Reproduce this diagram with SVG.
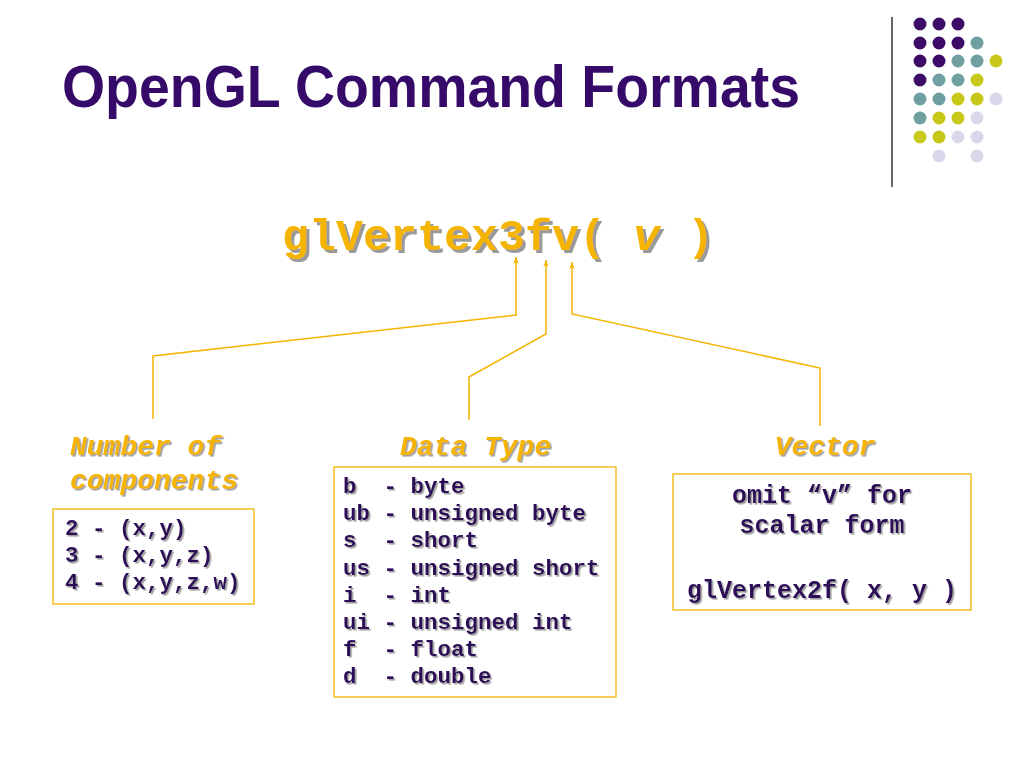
<svg xmlns="http://www.w3.org/2000/svg" width="1024" height="768" viewBox="0 0 1024 768">
<defs>
<style>
.title{font-family:"Liberation Sans",Arial,sans-serif;font-weight:bold;font-size:60px;fill:#350a68}
.code{font-family:"Liberation Mono","Courier New",monospace;font-weight:bold}
.main{font-size:45px;fill:#f5b400}
.lbl{font-size:28px;fill:#f5b400;font-style:italic}
.item{font-size:22.5px;fill:#2e0a58}
.vec{font-size:25px;fill:#2e0a58}
.box{fill:#ffffff;stroke:#f5b400;stroke-width:1.3}
.conn{fill:none;stroke:#f5b400;stroke-width:1.5}
.p{fill:#3d0c66}.t{fill:#6f9fa0}.y{fill:#c8c81a}.l{fill:#d8d8ea}
</style>
<filter id="shBig" x="-5%" y="-20%" width="110%" height="140%"><feDropShadow dx="3" dy="3" stdDeviation="0.6" flood-color="#9a9a9a" flood-opacity="1"/></filter>
<filter id="sh" x="-5%" y="-20%" width="110%" height="140%"><feDropShadow dx="1.6" dy="1.6" stdDeviation="0.5" flood-color="#a0a0a0" flood-opacity="1"/></filter>
<marker id="arr" viewBox="0 0 10 10" refX="10" refY="5" markerWidth="7" markerHeight="7" orient="auto" markerUnits="userSpaceOnUse">
<path d="M0,1 L10,5 L0,9 L3,5 Z" fill="#f5b400"/>
</marker>
</defs>
<rect width="1024" height="768" fill="#ffffff"/>

<g id="title">
<text class="title" x="62" y="107" textLength="738" lengthAdjust="spacingAndGlyphs">OpenGL Command Formats</text>
</g>

<g id="decoration">
<line x1="892" y1="17" x2="892" y2="187" stroke="#333333" stroke-width="1.5"/>
<circle class="p" cx="920" cy="24" r="6.5"/><circle class="p" cx="939" cy="24" r="6.5"/><circle class="p" cx="958" cy="24" r="6.5"/>
<circle class="p" cx="920" cy="43" r="6.5"/><circle class="p" cx="939" cy="43" r="6.5"/><circle class="p" cx="958" cy="43" r="6.5"/><circle class="t" cx="977" cy="43" r="6.5"/>
<circle class="p" cx="920" cy="61" r="6.5"/><circle class="p" cx="939" cy="61" r="6.5"/><circle class="t" cx="958" cy="61" r="6.5"/><circle class="t" cx="977" cy="61" r="6.5"/><circle class="y" cx="996" cy="61" r="6.5"/>
<circle class="p" cx="920" cy="80" r="6.5"/><circle class="t" cx="939" cy="80" r="6.5"/><circle class="t" cx="958" cy="80" r="6.5"/><circle class="y" cx="977" cy="80" r="6.5"/>
<circle class="t" cx="920" cy="99" r="6.5"/><circle class="t" cx="939" cy="99" r="6.5"/><circle class="y" cx="958" cy="99" r="6.5"/><circle class="y" cx="977" cy="99" r="6.5"/><circle class="l" cx="996" cy="99" r="6.5"/>
<circle class="t" cx="920" cy="118" r="6.5"/><circle class="y" cx="939" cy="118" r="6.5"/><circle class="y" cx="958" cy="118" r="6.5"/><circle class="l" cx="977" cy="118" r="6.5"/>
<circle class="y" cx="920" cy="137" r="6.5"/><circle class="y" cx="939" cy="137" r="6.5"/><circle class="l" cx="958" cy="137" r="6.5"/><circle class="l" cx="977" cy="137" r="6.5"/>
<circle class="l" cx="939" cy="156" r="6.5"/><circle class="l" cx="977" cy="156" r="6.5"/>
</g>

<g id="command">
<text class="code main" x="282" y="250" filter="url(#shBig)">glVertex3fv(<tspan font-style="italic"> v </tspan>)</text>
</g>

<g id="connectors">
<polyline class="conn" points="153,419 153,356 516,315 516,257" marker-end="url(#arr)"/>
<polyline class="conn" points="469,420 469,377 546,334 546,260" marker-end="url(#arr)"/>
<polyline class="conn" points="820,426 820,368 572,314 572,262" marker-end="url(#arr)"/>
</g>

<g id="components">
<text class="code lbl" x="70" y="455" filter="url(#sh)">Number of</text>
<text class="code lbl" x="70" y="489" filter="url(#sh)">components</text>
<rect class="box" x="53" y="509" width="201" height="95"/>
<g class="code item" filter="url(#sh)">
<text x="65" y="535">2 - (x,y)</text>
<text x="65" y="562">3 - (x,y,z)</text>
<text x="65" y="589">4 - (x,y,z,w)</text>
</g>
</g>

<g id="datatype">
<text class="code lbl" x="400" y="455" filter="url(#sh)">Data Type</text>
<rect class="box" x="334" y="467" width="282" height="230"/>
<g class="code item" filter="url(#sh)">
<text x="343" y="493">b&#160; - byte</text>
<text x="343" y="520">ub - unsigned byte</text>
<text x="343" y="547">s&#160; - short</text>
<text x="343" y="575">us - unsigned short</text>
<text x="343" y="602">i&#160; - int</text>
<text x="343" y="629">ui - unsigned int</text>
<text x="343" y="656">f&#160; - float</text>
<text x="343" y="683">d&#160; - double</text>
</g>
</g>

<g id="vector">
<text class="code lbl" x="825" y="455" text-anchor="middle" filter="url(#sh)">Vector</text>
<rect class="box" x="673" y="474" width="298" height="136"/>
<g class="code vec" text-anchor="middle" filter="url(#sh)">
<text x="822" y="503">omit “v” for</text>
<text x="822" y="533">scalar form</text>
<text x="822" y="598">glVertex2f( x, y )</text>
</g>
</g>
</svg>
